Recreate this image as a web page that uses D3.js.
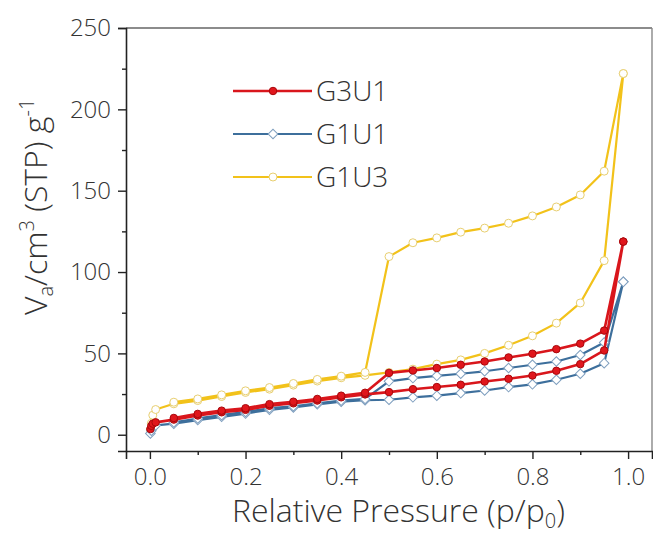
<!DOCTYPE html>
<html>
<head>
<meta charset="utf-8">
<script src="https://cdn.jsdelivr.net/npm/d3@7"></script>
<style>
  body { margin: 0; background: #fff; }
  text { font-family: "Open Sans", sans-serif; font-weight: 300; fill: #333; }
</style>
</head>
<body>
<div class="canvas"></div>
<script>
// relative pressure steps
const adsP = [0.001, 0.003, 0.006, 0.012, 0.05, 0.1, 0.15, 0.2, 0.25, 0.3, 0.35, 0.4, 0.45,
  0.5, 0.55, 0.6, 0.65, 0.7, 0.75, 0.8, 0.85, 0.9, 0.95, 0.99];
const desP = [0.99, 0.95, 0.9, 0.85, 0.8, 0.75, 0.7, 0.65, 0.6, 0.55, 0.5,
  0.45, 0.4, 0.35, 0.3, 0.25, 0.2, 0.15, 0.1, 0.05];

// adsorbed volume, adsorption / desorption branches
const g3u1Ads = [3.5, 5.5, 6.8, 7.6, 9.3, 11.8, 13.8, 15.3, 17.8, 19.3, 21, 23, 24.8,
  26.2, 28, 29.3, 30.7, 32.7, 34.4, 36.4, 39.3, 43.4, 51.8, 118.7];
const g3u1Des = [118.7, 64, 56, 52.6, 49.8, 47.5, 45, 43, 41, 39.5, 38,
  25.8, 24, 22, 20.3, 18.8, 16.3, 14.8, 12.8, 10.3];

const g1u1Ads = [0.8, 2.5, 4.5, 5.7, 6.8, 9, 11, 13, 15.3, 16.8, 18.7, 20.3, 21.2,
  21.5, 23, 24, 25.6, 27.2, 29.3, 31, 33.8, 37.5, 44, 94];
const g1u1Des = [94, 56.7, 49, 45, 43, 41, 39, 37.5, 36.2, 34.8, 32.8,
  22, 21, 19.3, 17.5, 16.3, 14, 12, 10, 7.6];

const g1u3Ads = [3, 7, 12, 15.5, 19, 21, 23.5, 26, 28, 30.5, 33, 35, 36.5,
  38.3, 40.3, 43.4, 46, 50, 55, 60.8, 68.6, 81, 107, 222];
const g1u3Des = [222, 162, 147.4, 140, 134.5, 130, 127, 124.5, 121, 118, 109.5,
  38.3, 36, 34, 31.5, 29, 27, 24.5, 22, 20];

const seriesNames = ['G3U1', 'G1U1', 'G1U3'];
const xTicks = [0, 0.2, 0.4, 0.6, 0.8, 1.0];
const xMinor = [0.1, 0.3, 0.5, 0.7, 0.9];
const yTicks = [0, 50, 100, 150, 200, 250];
const yMinor = [25, 75, 125, 175, 225];

const width = 653, height = 536;

const svg = d3.select('.canvas')
  .append('svg')
  .attr('width', width)
  .attr('height', height);

const plot = { left: 126, right: 652, top: 28, bottom: 451 };

const x = d3.scaleLinear().domain([-0.05, 1.05]).range([plot.left, plot.right]);
const y = d3.scaleLinear().domain([-10, 250]).range([plot.bottom, plot.top]);

// series styling
const styles = {
  G3U1: { line: '#d9161c', width: 2.6, fill: '#e0161c', stroke: '#a8080c', shape: 'circle', size: 44 },
  G1U1: { line: '#3d6f9c', width: 2.2, fill: '#ffffff', stroke: '#7f9fbf', shape: 'diamond', size: 46 },
  G1U3: { line: '#f2c21a', width: 2.2, fill: '#ffffff', stroke: '#e8cf70', shape: 'circle', size: 50 }
};

const series = [
  { name: 'G1U3', ads: g1u3Ads, des: g1u3Des },
  { name: 'G1U1', ads: g1u1Ads, des: g1u1Des },
  { name: 'G3U1', ads: g3u1Ads, des: g3u1Des }
];

// axes frame: top and right borders
svg.append('line')
  .attr('x1', plot.left).attr('x2', plot.right)
  .attr('y1', plot.top).attr('y2', plot.top)
  .attr('stroke', '#666').attr('stroke-width', 1.6);
svg.append('line')
  .attr('x1', plot.right).attr('x2', plot.right)
  .attr('y1', plot.top).attr('y2', plot.bottom)
  .attr('stroke', '#888').attr('stroke-width', 1.4);

const line = d3.line()
  .x(d => x(d[0]))
  .y(d => y(d[1]));

const symbolFor = s => s.shape === 'diamond'
  ? d3.symbol().type(d3.symbolSquare).size(s.size)
  : d3.symbol().type(d3.symbolCircle).size(s.size);

series.forEach(s => {
  const st = styles[s.name];
  const pts = adsP.map((p, i) => [p, s.ads[i]])
    .concat(desP.map((p, i) => [p, s.des[i]]));

  svg.append('path')
    .datum(pts)
    .attr('d', line)
    .attr('fill', 'none')
    .attr('stroke', st.line)
    .attr('stroke-width', st.width)
    .attr('stroke-linejoin', 'round');

  svg.append('g').selectAll('path')
    .data(pts)
    .enter().append('path')
    .attr('d', symbolFor(st))
    .attr('transform', d => `translate(${x(d[0])},${y(d[1])})` + (st.shape === 'diamond' ? ' rotate(45)' : ''))
    .attr('fill', st.fill)
    .attr('stroke', st.stroke)
    .attr('stroke-width', 1);
});

// x axis
const xAxisGroup = svg.append('g').attr('transform', `translate(0,${plot.bottom})`);
xAxisGroup.call(d3.axisBottom(x).tickValues(xTicks).tickSize(8).tickPadding(9)
  .tickFormat(d3.format('.1f')));
svg.append('g').attr('transform', `translate(0,${plot.bottom})`)
  .call(d3.axisBottom(x).tickValues(xMinor).tickSize(4).tickFormat(''))
  .call(g => g.select('.domain').remove());

// y axis
const yAxisGroup = svg.append('g').attr('transform', `translate(${plot.left},0)`);
yAxisGroup.call(d3.axisLeft(y).tickValues(yTicks).tickSize(8).tickPadding(7));
svg.append('g').attr('transform', `translate(${plot.left},0)`)
  .call(d3.axisLeft(y).tickValues(yMinor).tickSize(4).tickFormat(''))
  .call(g => g.select('.domain').remove());

svg.selectAll('.domain').attr('stroke', '#222').attr('stroke-width', 1.6);
svg.selectAll('.tick line').attr('stroke', '#222').attr('stroke-width', 1.4);
[xAxisGroup, yAxisGroup].forEach(g => g.selectAll('text')
  .attr('font-size', 24).attr('fill', '#333')
  .style('font-family', '"Open Sans", sans-serif')
  .style('font-weight', 300));

// axis titles
const xTitle = svg.append('text')
  .attr('x', 232).attr('y', 522)
  .attr('font-size', 32);
xTitle.append('tspan').text('Relative Pressure (p/p');
xTitle.append('tspan').text('0').attr('font-size', 20).attr('dy', 6);
xTitle.append('tspan').text(')').attr('dy', -6);

const yTitle = svg.append('text')
  .attr('transform', 'translate(47,315) rotate(-90)')
  .attr('font-size', 32);
yTitle.append('tspan').text('V');
yTitle.append('tspan').text('a').attr('font-size', 20).attr('dy', 6);
yTitle.append('tspan').text('/cm').attr('dy', -6);
yTitle.append('tspan').text('3').attr('font-size', 20).attr('dy', -13);
yTitle.append('tspan').text(' (STP) g').attr('dy', 13);
yTitle.append('tspan').text('-1').attr('font-size', 20).attr('dy', -13);

// legend
const legend = svg.append('g');
seriesNames.forEach((name, i) => {
  const st = styles[name];
  const ly = 91 + i * 43;
  legend.append('line')
    .attr('x1', 233).attr('x2', 312)
    .attr('y1', ly).attr('y2', ly)
    .attr('stroke', st.line).attr('stroke-width', st.width);
  legend.append('path')
    .attr('d', symbolFor(st))
    .attr('transform', `translate(273,${ly})` + (st.shape === 'diamond' ? ' rotate(45)' : ''))
    .attr('fill', st.fill)
    .attr('stroke', st.stroke)
    .attr('stroke-width', 1);
  legend.append('text')
    .attr('x', 316).attr('y', ly + 10)
    .attr('font-size', 28)
    .text(name);
});
</script>
</body>
</html>
